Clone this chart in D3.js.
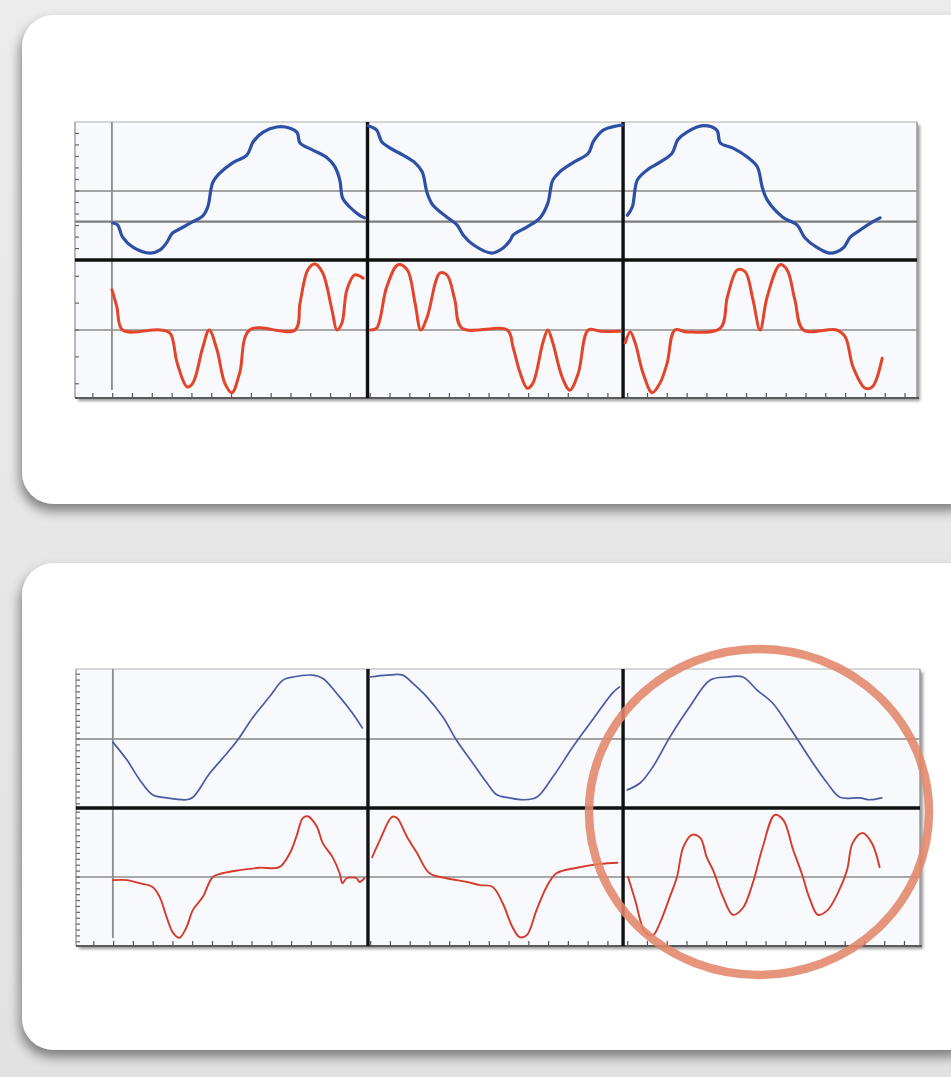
<!DOCTYPE html>
<html>
<head>
<meta charset="utf-8">
<script src="https://cdn.jsdelivr.net/npm/d3@7"></script>
<style>
  html, body { margin: 0; padding: 0; background: #e9e9e9; }
  svg { display: block; }
</style>
</head>
<body>
<svg id="chart" width="951" height="1077"></svg>
<script>
// ---------- DATA (x = degrees within captured cycle, y = % of full scale) ----------
// Panel A (upper card): smooth traces
const aBlue1 = [[1,-50],[8,-53],[15,-72],[30,-88],[54,-97],[68,-92],[77,-81],[85,-66],[96,-59],[114,-48],[128,-39],[135,-25],[142,13],[152,28],[170,44],[190,56],[199,77],[213,92],[232,100],[251,98],[261,91],[265,75],[283,64],[303,52],[314,38],[321,17],[325,-11],[335,-25],[349,-38],[356,-42]];
const aBlue2 = [[1,102],[13,95],[20,77],[32,67],[50,56],[67,44],[77,30],[84,-3],[92,-22],[112,-41],[126,-53],[135,-69],[149,-84],[175,-97],[191,-89],[201,-77],[205,-69],[225,-56],[243,-42],[254,-19],[261,17],[271,30],[289,44],[311,59],[318,77],[332,95],[352,102],[359,103]];
const aBlue3 = [[6,-38],[13,-25],[20,17],[34,33],[52,45],[69,59],[77,80],[90,92],[113,102],[132,95],[137,75],[155,67],[175,53],[189,38],[196,6],[203,-14],[225,-41],[245,-53],[256,-73],[273,-88],[292,-97],[310,-89],[320,-72],[334,-61],[352,-48],[362,-42]];
const aRed1 = [[0,63],[7,36],[15,0],[68,0],[82,-5],[92,-52],[106,-89],[114,-83],[128,-27],[137,0],[148,-31],[159,-83],[169,-98],[180,-67],[194,0],[258,0],[265,42],[276,94],[286,103],[297,89],[310,31],[317,0],[324,11],[331,63],[342,86],[354,81]];
const aRed2 = [[4,0],[13,3],[27,67],[43,102],[56,94],[67,42],[75,0],[84,20],[102,89],[112,86],[123,47],[133,3],[197,0],[205,-27],[215,-67],[225,-91],[233,-83],[247,-20],[254,0],[261,-20],[274,-73],[285,-94],[297,-67],[311,0],[328,-2],[356,-2]];
const aRed3 = [[3,-20],[10,-3],[17,-20],[28,-67],[41,-98],[52,-83],[62,-52],[73,0],[90,-3],[137,3],[147,52],[161,94],[172,91],[183,47],[193,0],[203,52],[221,102],[231,94],[242,47],[254,0],[301,0],[313,-11],[324,-58],[341,-91],[351,-89],[365,-44]];

// Panel B (lower card): measured traces
const bBlue1 = [[0,-5],[20,-34],[38,-66],[56,-90],[76,-95],[104,-98],[113,-94],[137,-55],[161,-23],[179,3],[197,34],[221,68],[240,95],[254,100],[282,103],[296,98],[320,68],[338,42],[352,18]];
const bBlue2 = [[3,100],[27,103],[49,103],[63,90],[83,68],[106,35],[125,-2],[148,-39],[168,-71],[182,-90],[200,-95],[219,-98],[238,-94],[261,-61],[289,-13],[317,31],[345,74],[355,84]];
const bBlue3 = [[6,-82],[24,-71],[42,-45],[66,3],[94,52],[123,95],[147,100],[169,100],[189,79],[211,58],[240,10],[268,-39],[288,-71],[306,-94],[334,-95],[348,-98],[365,-95]];
const bRed1 = [[0,-5],[20,-5],[38,-10],[56,-16],[66,-32],[76,-65],[85,-90],[94,-98],[104,-81],[113,-53],[127,-32],[141,0],[155,6],[179,11],[207,15],[235,16],[250,39],[259,65],[268,95],[275,98],[288,81],[296,55],[310,32],[320,6],[324,-10],[330,-2],[344,-2],[348,-8],[355,-2]];
const bRed2 = [[6,32],[17,60],[34,97],[41,95],[55,65],[69,39],[87,6],[111,-2],[140,-8],[158,-13],[176,-16],[190,-42],[204,-81],[214,-97],[224,-94],[238,-53],[252,-16],[266,6],[295,15],[327,21],[352,23]];
const bRed3 = [[7,0],[17,-37],[31,-89],[42,-94],[52,-74],[66,-32],[76,0],[85,48],[97,68],[109,63],[118,32],[127,11],[141,-32],[155,-61],[169,-50],[183,-10],[197,48],[214,100],[226,92],[240,44],[252,6],[264,-37],[275,-61],[289,-53],[303,-26],[316,11],[324,55],[338,71],[351,55],[362,16]];

const segments = [0, 1, 2];            // three captured cycles, 360° each
const aUpperTicks = d3.range(-108, 109, 18);
const aLowerTicks = [-84, -42, 0, 42, 84];
const bUpperTicks = d3.range(-104.5, 113, 9.5);
const bLowerTicks = d3.range(-104.5, 112, 9.5);
const xTicks = d3.range(-26.8, 1135, 27.9);

// ---------- DRAW ----------
const svg = d3.select("#chart");
const defs = svg.append("defs");

const bg = defs.append("linearGradient").attr("id", "bgGrad").attr("x1", 0).attr("y1", 0).attr("x2", 0).attr("y2", 1);
bg.append("stop").attr("offset", "0%").attr("stop-color", "#ececec");
bg.append("stop").attr("offset", "100%").attr("stop-color", "#e2e2e2");

const cardShadow = defs.append("filter").attr("id", "cardShadow")
  .attr("x", "-10%").attr("y", "-10%").attr("width", "120%").attr("height", "125%");
cardShadow.append("feDropShadow").attr("dx", -2).attr("dy", 7).attr("stdDeviation", 6)
  .attr("flood-color", "#000").attr("flood-opacity", 0.45);

const frameShadow = defs.append("filter").attr("id", "frameShadow")
  .attr("x", "-5%").attr("y", "-5%").attr("width", "110%").attr("height", "115%");
frameShadow.append("feDropShadow").attr("dx", 3).attr("dy", 3).attr("stdDeviation", 1.5)
  .attr("flood-color", "#000").attr("flood-opacity", 0.4);

const soft = defs.append("filter").attr("id", "soft");
soft.append("feGaussianBlur").attr("stdDeviation", 0.5);

svg.append("rect").attr("width", 951).attr("height", 1077).attr("fill", "url(#bgGrad)");

// cards
const cards = [
  { x: 22, y: 15, w: 960, h: 489 },
  { x: 22, y: 563, w: 960, h: 487 }
];
svg.selectAll("rect.card").data(cards).join("rect")
  .attr("class", "card")
  .attr("x", d => d.x).attr("y", d => d.y)
  .attr("width", d => d.w).attr("height", d => d.h)
  .attr("rx", 32).attr("ry", 32)
  .attr("fill", "#ffffff")
  .attr("filter", "url(#cardShadow)");

function drawPanel(cfg) {
  const g = svg.append("g");
  const x = d3.scaleLinear().domain([-52, cfg.xMax]).range([cfg.left, cfg.right]);
  const yU = d3.scaleLinear().domain([-100, 100]).range([cfg.zeroU + cfg.amp, cfg.zeroU - cfg.amp]);
  const yL = d3.scaleLinear().domain([-100, 100]).range([cfg.zeroL + cfg.amp, cfg.zeroL - cfg.amp]);

  // frame with shadow
  g.append("rect")
    .attr("x", cfg.left).attr("y", cfg.top)
    .attr("width", cfg.right - cfg.left).attr("height", cfg.bottom - cfg.top)
    .attr("fill", "#f7f9fc").attr("stroke", "none")
    .attr("filter", "url(#frameShadow)");
  g.append("line").attr("x1", cfg.left).attr("x2", cfg.right).attr("y1", cfg.top).attr("y2", cfg.top)
    .attr("stroke", "#c9c9c9").attr("stroke-width", 1.5);
  g.append("line").attr("x1", cfg.right).attr("x2", cfg.right).attr("y1", cfg.top).attr("y2", cfg.bottom)
    .attr("stroke", "#9a9a9a").attr("stroke-width", 1.5);

  // horizontal rules
  g.append("line").attr("x1", cfg.left).attr("x2", cfg.right)
    .attr("y1", yU(0)).attr("y2", yU(0)).attr("stroke", "#a3a3a3").attr("stroke-width", 2.2);
  if (cfg.refU !== undefined) {
    g.append("line").attr("x1", cfg.left).attr("x2", cfg.right)
      .attr("y1", yU(cfg.refU)).attr("y2", yU(cfg.refU)).attr("stroke", "#7c7c7c").attr("stroke-width", 2.2);
  }
  g.append("line").attr("x1", cfg.left).attr("x2", cfg.right)
    .attr("y1", yL(0)).attr("y2", yL(0)).attr("stroke", "#a8a8a8").attr("stroke-width", 1.8);

  // first cycle marker (gray)
  g.append("line").attr("x1", x(0)).attr("x2", x(0)).attr("y1", cfg.top).attr("y2", cfg.bottom - 8)
    .attr("stroke", "#8c8c8c").attr("stroke-width", 1.8);

  // left axis
  const axL = g.append("g");
  axL.append("line").attr("x1", cfg.left).attr("x2", cfg.left).attr("y1", cfg.top).attr("y2", cfg.bottom)
    .attr("stroke", "#8a8a8a").attr("stroke-width", 1.2);
  const sepY = cfg.sep;
  axL.selectAll("line.tu").data(cfg.upperTicks.filter(v => yU(v) >= cfg.top && yU(v) <= sepY)).join("line")
    .attr("class", "tu").attr("x1", cfg.left).attr("x2", cfg.left + 4)
    .attr("y1", d => yU(d)).attr("y2", d => yU(d)).attr("stroke", "#666").attr("stroke-width", 1.2);
  axL.selectAll("line.tl").data(cfg.lowerTicks.filter(v => yL(v) >= sepY && yL(v) <= cfg.bottom)).join("line")
    .attr("class", "tl").attr("x1", cfg.left).attr("x2", cfg.left + 4)
    .attr("y1", d => yL(d)).attr("y2", d => yL(d)).attr("stroke", "#666").attr("stroke-width", 1.2);

  // bottom axis
  const axB = g.append("g");
  axB.selectAll("line").data(xTicks.filter(v => x(v) > cfg.left && x(v) < cfg.right)).join("line")
    .attr("x1", d => x(d)).attr("x2", d => x(d))
    .attr("y1", cfg.bottom).attr("y2", cfg.bottom - 5)
    .attr("stroke", "#555").attr("stroke-width", 1.2);
  axB.append("line").attr("x1", cfg.left).attr("x2", cfg.right + 2).attr("y1", cfg.bottom).attr("y2", cfg.bottom)
    .attr("stroke", "#5a5a5a").attr("stroke-width", 2.2);

  // separator and cycle boundaries (black)
  g.append("line").attr("x1", cfg.left).attr("x2", cfg.right)
    .attr("y1", sepY).attr("y2", sepY).attr("stroke", "#111").attr("stroke-width", 3.6);
  [360, 720].forEach(v => {
    g.append("line").attr("x1", x(v)).attr("x2", x(v)).attr("y1", cfg.top).attr("y2", cfg.bottom)
      .attr("stroke", "#111").attr("stroke-width", 3.4);
  });

  // traces
  const curve = cfg.smooth ? d3.curveCatmullRom.alpha(0.5) : d3.curveCatmullRom.alpha(0.5);
  segments.forEach(s => {
    const lineU = d3.line().x(d => x(s * 360 + d[0])).y(d => yU(d[1])).curve(curve);
    const lineL = d3.line().x(d => x(s * 360 + d[0])).y(d => yL(d[1])).curve(curve);
    g.append("path").datum(cfg.blue[s]).attr("d", lineU)
      .attr("fill", "none").attr("stroke", cfg.blueColor).attr("stroke-width", cfg.lw)
      .attr("stroke-linejoin", "round").attr("stroke-linecap", "round").attr("filter", "url(#soft)");
    g.append("path").datum(cfg.red[s]).attr("d", lineL)
      .attr("fill", "none").attr("stroke", cfg.redColor).attr("stroke-width", cfg.lwR)
      .attr("stroke-linejoin", "round").attr("stroke-linecap", "round").attr("filter", "url(#soft)");
  });
  return { x, yU, yL };
}

drawPanel({
  left: 75, right: 917, top: 122, bottom: 398, xMax: 1134,
  zeroU: 191, zeroL: 330, amp: 64, sep: 260, refU: -48,
  upperTicks: aUpperTicks, lowerTicks: aLowerTicks,
  blue: [aBlue1, aBlue2, aBlue3], red: [aRed1, aRed2, aRed3],
  blueColor: "#2f4fa6", redColor: "#e2452c", lw: 3.2, lwR: 3.0, smooth: true
});

drawPanel({
  left: 76, right: 920, top: 669, bottom: 946, xMax: 1139,
  zeroU: 739, zeroL: 877, amp: 62, sep: 808,
  upperTicks: bUpperTicks, lowerTicks: bLowerTicks,
  blue: [bBlue1, bBlue2, bBlue3], red: [bRed1, bRed2, bRed3],
  blueColor: "#4b5aa5", redColor: "#d53a2b", lw: 1.7, lwR: 1.9, smooth: false
});

// highlight ellipse around the third cycle of the lower panel
svg.append("ellipse")
  .attr("cx", 759).attr("cy", 812).attr("rx", 170).attr("ry", 163)
  .attr("fill", "none").attr("stroke", "#e3866a").attr("stroke-opacity", 0.88)
  .attr("stroke-width", 8.5).attr("filter", "url(#soft)");
</script>
</body>
</html>
